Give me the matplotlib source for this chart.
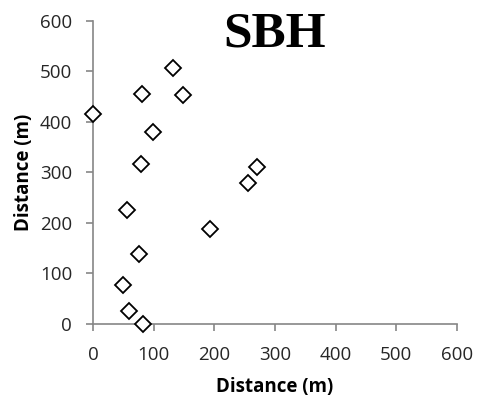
import matplotlib
matplotlib.use("Agg")
import matplotlib.pyplot as plt

# sampling points, horizontal and vertical distance
dist_x = [0, 81, 132, 149, 99, 79, 271, 255, 56, 193, 76, 50, 60, 83]
dist_y = [415, 455, 507, 453, 380, 317, 311, 279, 226, 188, 138, 78, 25, 0]
ticks = [0, 100, 200, 300, 400, 500, 600]

fig = plt.figure(figsize=(4.79, 4.03), dpi=100)
ax = fig.add_axes([0.194, 0.196, 0.760, 0.753])

ax.plot(dist_x, dist_y, linestyle="none", marker="D", markersize=8,
        markerfacecolor="white", markeredgecolor="black", markeredgewidth=1.3,
        clip_on=False, zorder=3)

ax.set_xlim(0, 600)
ax.set_ylim(0, 600)
ax.set_xticks(ticks)
ax.set_yticks(ticks)

grey = "#868686"
for side in ["top", "right"]:
    ax.spines[side].set_visible(False)
for side in ["left", "bottom"]:
    ax.spines[side].set_color(grey)
    ax.spines[side].set_linewidth(1.2)
ax.tick_params(direction="out", length=5, width=1.2, color=grey,
               labelsize=13.5, labelcolor="#262626")
ax.tick_params(axis="x", pad=11)
ax.tick_params(axis="y", pad=10)
for lab in ax.get_xticklabels() + ax.get_yticklabels():
    lab.set_family("Open Sans")

ax.set_xlabel("Distance (m)", fontsize=13.5, fontweight="bold", family="Open Sans", labelpad=9)
ax.set_ylabel("Distance (m)", fontsize=13.5, fontweight="bold", family="Open Sans", labelpad=4)

fig.text(0.573, 0.915, "SBH", ha="center", va="center", fontsize=37,
         fontweight="bold", family="Liberation Serif")

fig.savefig("out.png", dpi=100)
